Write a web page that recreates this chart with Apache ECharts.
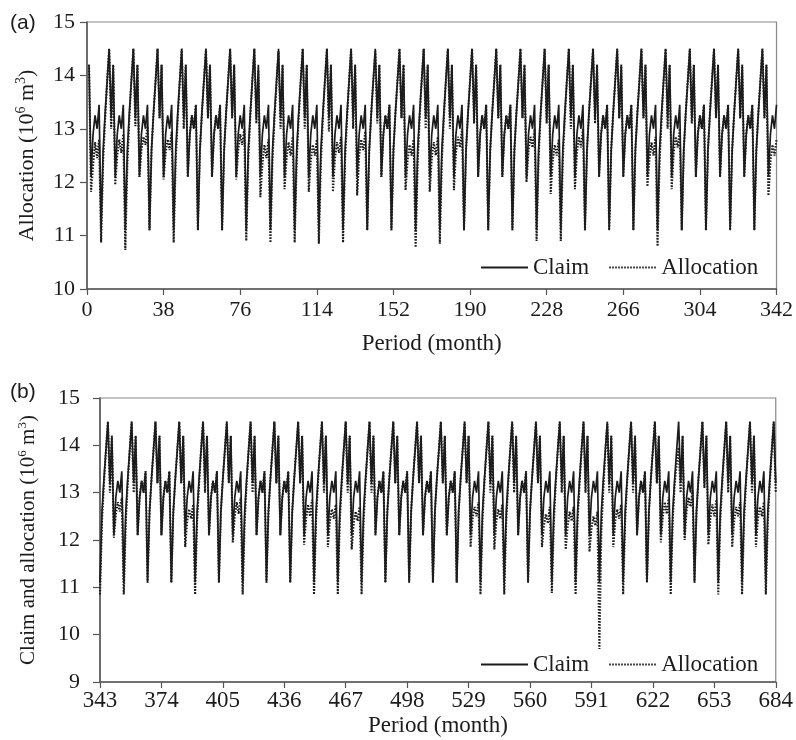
<!DOCTYPE html>
<html><head><meta charset="utf-8">
<script src="https://cdn.jsdelivr.net/npm/echarts@6/dist/echarts.min.js"></script>
<style>html,body{margin:0;padding:0;background:#fff}#c{width:796px;height:740px}</style>
</head><body><div id="c"></div>
<script>
// Monthly claim (10^6 m3): the same 12-month cycle repeats every year in the picture
const claimMonthly = [14.2, 12.1, 12.9, 13.25, 13.0, 13.45, 11.1, 12.6, 13.3, 13.9, 14.5, 13.2];

// Monthly allocation (10^6 m3), one row per year (57 years = 684 months)
const allocationByYear = [
  [14.2,11.82,12.3,12.75,12.45,12.8,10.87,12.4,13.2,13.9,14.5,13.0],
  [14.2,11.95,12.5,12.8,12.55,12.9,10.73,12.3,13.2,13.9,14.5,13.05],
  [14.2,12.1,12.6,12.85,12.7,13.05,11.1,12.6,13.3,13.9,14.5,13.2],
  [14.2,12.05,12.55,12.8,12.6,12.95,10.87,12.4,13.2,13.9,14.5,13.0],
  [14.2,12.1,12.9,13.25,13.0,13.45,11.1,12.6,13.3,13.9,14.5,13.2],
  [14.2,12.1,12.9,13.25,13.0,13.45,11.1,12.6,13.3,13.9,14.5,13.2],
  [14.2,12.05,12.6,12.9,12.7,13.0,10.9,12.45,13.25,13.9,14.5,13.1],
  [14.1,11.72,12.35,12.7,12.45,12.8,10.87,12.4,13.2,13.85,14.45,13.0],
  [14.2,11.87,12.45,12.75,12.5,12.85,10.87,12.4,13.2,13.9,14.5,13.0],
  [14.2,11.82,12.4,12.7,12.5,12.8,10.85,12.35,13.2,13.9,14.5,12.95],
  [14.2,11.82,12.45,12.75,12.55,12.85,10.87,12.4,13.2,13.9,14.5,13.0],
  [14.2,11.75,12.5,12.8,12.6,12.95,11.1,12.6,13.3,13.9,14.45,13.1],
  [14.2,12.1,12.9,13.25,13.0,13.45,11.1,12.6,13.3,13.9,14.5,13.2],
  [14.2,11.85,12.4,12.7,12.5,12.8,10.78,12.35,13.2,13.9,14.5,13.0],
  [14.2,11.82,12.45,12.75,12.5,12.85,10.85,12.4,13.2,13.9,14.5,13.0],
  [14.2,11.85,12.55,12.85,12.65,13.0,11.1,12.6,13.3,13.9,14.5,13.1],
  [14.2,12.1,12.9,13.25,13.0,13.45,11.1,12.6,13.3,13.9,14.5,13.2],
  [14.2,12.1,12.9,13.25,13.0,13.45,11.1,12.6,13.3,13.9,14.5,13.2],
  [14.2,12.0,12.6,12.85,12.65,13.0,10.9,12.45,13.25,13.9,14.5,13.1],
  [14.2,11.78,12.4,12.7,12.5,12.8,10.9,12.4,13.2,13.9,14.5,13.0],
  [14.2,11.87,12.55,12.85,12.65,13.0,11.1,12.6,13.3,13.9,14.5,13.1],
  [14.2,12.1,12.9,13.25,13.0,13.45,11.1,12.6,13.3,13.9,14.5,13.2],
  [14.2,12.1,12.9,13.25,13.0,13.45,11.1,12.6,13.3,13.9,14.5,13.2],
  [14.2,11.92,12.45,12.75,12.5,12.85,10.8,12.35,13.2,13.9,14.5,13.0],
  [14.2,11.87,12.55,12.85,12.65,13.0,11.1,12.6,13.3,13.9,14.5,13.1],
  [14.2,12.1,12.9,13.25,13.0,13.45,11.1,12.6,13.3,13.9,14.5,13.2],
  [14.2,12.1,12.9,13.25,13.0,13.45,11.1,12.6,13.3,13.9,14.5,13.2],
  [14.2,12.1,12.9,13.25,13.0,13.45,11.1,12.6,13.3,13.9,14.5,13.2],
  [14.2,11.75,12.4,12.7,12.5,12.8,10.85,12.4,13.2,13.9,14.5,13.0],
  [14.2,12.05,12.55,12.8,12.6,12.9,10.85,12.4,13.2,13.9,14.5,13.0],
  [14.2,12.1,12.9,13.25,13.0,13.45,11.1,12.6,13.3,13.9,14.5,13.2],
  [14.2,12.1,12.9,13.25,13.0,13.45,11.1,12.6,13.3,13.9,14.5,13.2],
  [14.2,11.85,12.4,12.65,12.45,12.75,10.85,12.4,13.2,13.9,14.5,13.0],
  [14.2,12.1,12.9,13.25,13.0,13.45,11.1,12.6,13.3,13.9,14.5,13.2],
  [14.2,11.95,12.5,12.8,12.55,12.9,10.85,12.4,13.2,13.9,14.5,13.0],
  [14.2,12.1,12.9,13.25,13.0,13.45,11.1,12.6,13.3,13.9,14.5,13.2],
  [14.2,12.1,12.9,13.25,13.0,13.45,11.1,12.6,13.3,13.9,14.5,13.2],
  [14.2,11.9,12.45,12.75,12.5,12.85,10.85,12.4,13.2,13.9,14.5,13.0],
  [14.2,11.85,12.4,12.65,12.45,12.75,10.85,12.4,13.2,13.9,14.5,13.0],
  [14.2,11.8,12.35,12.6,12.4,12.7,10.85,12.35,13.2,13.9,14.5,13.0],
  [14.2,12.1,12.9,13.25,13.0,13.45,11.1,12.6,13.3,13.9,14.5,13.2],
  [14.2,12.1,12.9,13.25,13.0,13.45,11.1,12.6,13.3,13.9,14.5,13.2],
  [14.2,12.1,12.9,13.25,13.0,13.45,11.1,12.6,13.3,13.9,14.5,13.2],
  [14.2,12.1,12.9,13.25,13.0,13.45,11.1,12.6,13.3,13.9,14.5,13.2],
  [14.2,11.85,12.45,12.7,12.5,12.8,10.85,12.4,13.2,13.9,14.5,13.0],
  [14.2,11.8,12.4,12.65,12.45,12.75,10.85,12.4,13.2,13.9,14.5,13.0],
  [14.2,12.1,12.9,13.25,13.0,13.45,11.1,12.6,13.3,13.9,14.5,13.2],
  [14.2,11.85,12.3,12.55,12.35,12.7,10.88,12.35,13.2,13.9,14.5,13.0],
  [14.2,11.8,12.3,12.6,12.4,12.7,10.85,12.4,13.2,13.9,14.5,13.0],
  [14.2,11.75,12.25,12.5,12.3,12.6,9.7,12.2,13.1,13.85,14.45,13.0],
  [14.2,11.85,12.4,12.65,12.45,12.75,10.85,12.4,13.2,13.9,14.5,13.0],
  [14.2,12.1,12.9,13.25,13.0,13.45,11.1,12.6,13.3,13.9,14.5,13.2],
  [14.2,11.95,12.5,12.8,12.55,12.9,10.85,12.4,13.2,13.6,13.95,13.0],
  [14.2,12.0,12.6,12.9,12.7,13.05,11.1,12.6,13.3,13.9,14.5,13.1],
  [14.2,11.9,12.45,12.75,12.5,12.85,10.85,12.4,13.2,13.9,14.5,13.0],
  [14.2,11.85,12.4,12.7,12.5,12.8,10.85,12.4,13.2,13.9,14.5,13.0],
  [14.2,11.85,12.45,12.7,12.5,12.8,10.85,12.4,13.2,13.9,14.5,13.0]
];

const splitMonth = 343; // first month of panel (b)
const xTicksA = {min: 0, max: 342, step: 38};
const xTicksB = {first: 343, last: 684, step: 31};

const claimA = [], allocA = [], claimB = [], allocB = [];
allocationByYear.forEach((row, y) => {
  row.forEach((a, m) => {
    const t = y * 12 + m + 1;
    const c = claimMonthly[m];
    if (t < splitMonth) { claimA.push([t, c]); allocA.push([t, a]); }
    else { claimB.push([t - splitMonth, c]); allocB.push([t - splitMonth, a]); }
  });
});

const serif = "'Liberation Serif', 'Times New Roman', serif";
const ink = '#1c1c1c';
const axisCol = '#555';
function nameRich(fs) {
  return {
    a: {fontFamily: serif, fontSize: fs, color: ink, lineHeight: fs + 4},
    s: {fontFamily: serif, fontSize: Math.round(fs * 0.62), color: ink, lineHeight: Math.round(fs * 0.62), verticalAlign: 'top'}
  };
}
function yAxis(gi, min, name, gap, margin, fs) {
  return {
    type: 'value', gridIndex: gi, min: min, max: 15, interval: 1,
    name: name, nameLocation: 'middle', nameGap: gap, nameRotate: 90,
    nameTextStyle: {rich: nameRich(fs)},
    axisLine: {show: true, lineStyle: {color: axisCol, width: 1.5}},
    axisTick: {show: true, length: 7, lineStyle: {color: axisCol, width: 1.2}},
    axisLabel: {fontFamily: serif, fontSize: 22, color: ink, margin: margin},
    splitLine: {show: false}
  };
}
function xAxis(gi, min, max, step, fmt, margin, gap, fs) {
  return {
    type: 'value', gridIndex: gi, min: min, max: max, interval: step,
    name: 'Period (month)', nameLocation: 'middle', nameGap: gap,
    nameTextStyle: {fontFamily: serif, fontSize: 23, color: ink},
    axisLine: {show: true, onZero: false, lineStyle: {color: axisCol, width: 1.5}},
    axisTick: {show: true, length: 6, lineStyle: {color: axisCol, width: 1.2}},
    axisLabel: {fontFamily: serif, fontSize: fs, color: ink, margin: margin, formatter: fmt,
                showMinLabel: true, showMaxLabel: true, hideOverlap: false},
    splitLine: {show: false}
  };
}
function lineSeries(name, xi, data, dotted) {
  return {
    name: name, type: 'line', xAxisIndex: xi, yAxisIndex: xi, data: data,
    symbol: 'none', showSymbol: false, animation: false, z: dotted ? 3 : 2,
    color: ink,
    itemStyle: {color: ink, opacity: 0},
    lineStyle: dotted ? {color: ink, width: 2.1, type: [1.6, 1.4]} : {color: ink, width: 1.7, type: 'solid'}
  };
}
const legendBase = {
  orient: 'horizontal', itemWidth: 47, itemHeight: 14, itemGap: 19,
  itemStyle: {opacity: 0},
  textStyle: {fontFamily: serif, fontSize: 23, color: ink},
  data: ['Claim', 'Allocation'], selectedMode: false
};

const chart = echarts.init(document.getElementById('c'), null, {renderer: 'canvas'});
chart.setOption({
  backgroundColor: '#fff',
  animation: false,
  title: [
    {text: '(a)', left: 5, top: 8, textStyle: {fontFamily: "'Liberation Sans', Arial, sans-serif", fontSize: 21, fontWeight: 'normal', color: ink}},
    {text: '(b)', left: 5, top: 377, textStyle: {fontFamily: "'Liberation Sans', Arial, sans-serif", fontSize: 21, fontWeight: 'normal', color: ink}}
  ],
  legend: [
    Object.assign({}, legendBase, {left: 475, top: 251}),
    Object.assign({}, legendBase, {left: 475, top: 648})
  ],
  grid: [
    {left: 87, right: 18, top: 22, height: 267, show: true, borderColor: '#888', borderWidth: 1.2},
    {left: 100, right: 18, top: 398, height: 284, show: true, borderColor: '#888', borderWidth: 1.2}
  ],
  xAxis: [
    xAxis(0, xTicksA.min, xTicksA.max, xTicksA.step, v => String(v), 10, 43, 22),
    xAxis(1, 0, xTicksB.last - xTicksB.first, xTicksB.step, v => String(v + xTicksB.first), 7, 32, 23)
  ],
  yAxis: [
    yAxis(0, 10, '{a|Allocation (10}{s|6}{a| m}{s|3}{a|)}', 47, 12, 22),
    yAxis(1, 9, '{a|Claim and allocation (10}{s|6}{a| m}{s|3}{a|)}', 59, 20, 21)
  ],
  series: [
    lineSeries('Claim', 0, claimA, false),
    lineSeries('Allocation', 0, allocA, true),
    lineSeries('Claim', 1, claimB, false),
    lineSeries('Allocation', 1, allocB, true)
  ]
});
</script>
</body></html>
